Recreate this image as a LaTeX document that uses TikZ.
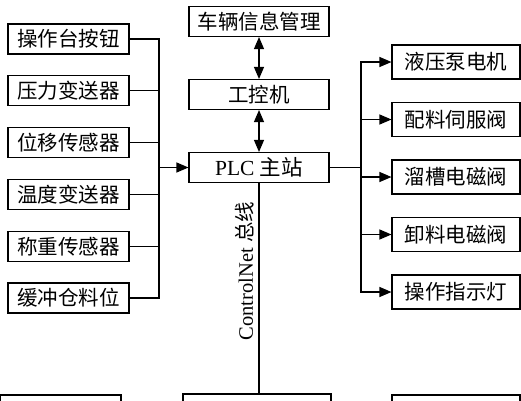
\documentclass[tikz,border=0pt]{standalone}
\usepackage{fontspec}
\setmainfont{Liberation Serif}
\newfontfamily\cjk{Noto Sans CJK SC}
\usetikzlibrary{arrows.meta}

\begin{document}
\begin{tikzpicture}[> = {Triangle[length=12pt, width=10pt]}, % arrow head style
        x = 1pt, y = -1pt, % one unit is one pixel of the page
        node distance = 51.8pt, % distance between sensor boxes
        line width = 1.1pt % line style
    ]

    \tikzstyle{every node}=[font=\fontsize{20.5}{24}\selectfont]
    \tikzstyle{lbox}=[draw = black, rectangle, inner sep = 0pt,
    minimum width = 121pt, minimum height = 30pt]
    \tikzstyle{cbox}=[lbox, minimum width = 140pt]
    \tikzstyle{rbox}=[lbox, minimum width = 128pt, minimum height = 34pt]

    \clip (0,0) rectangle (521,400);

    % sensors
    \node[lbox] (s1) at (68.5,39) {\cjk 操作台按钮}; \node[lbox] (s2) [below
    of=s1] {\cjk 压力变送器}; \node[lbox] (s3) [below of=s2] {\cjk 位移传感器};
    \node[lbox] (s4) [below of=s3] {\cjk 温度变送器}; \node[lbox] (s5) [below
    of=s4] {\cjk 称重传感器}; \node[lbox] (s6) [below of=s5] {\cjk 缓冲仓料位};

    % master
    \node[cbox] (veh) at (259,21.5) {\cjk 车辆信息管理}; \node[cbox] (ipc)
    [below of=veh, node distance=73pt] {\cjk 工控机}; \node[cbox] (plc) [below
    of=ipc, node distance=73pt] {\fontsize{21.5}{24}\selectfont PLC {\cjk 主站}};

    % actuators
    \node[rbox] (a1) at (456,62) {\cjk 液压泵电机}; \node[rbox] (a2) [below
    of=a1, node distance=57.5pt] {\cjk 配料伺服阀}; \node[rbox] (a3) [below
    of=a2, node distance=57.5pt] {\cjk 溜槽电磁阀}; \node[rbox] (a4) [below
    of=a3, node distance=57.5pt] {\cjk 卸料电磁阀}; \node[rbox] (a5) [below
    of=a4, node distance=57.5pt] {\cjk 操作指示灯};

    % stations on the bus
    \node[lbox, minimum width=121pt, minimum height=52pt] (d1) at (60.5,421) {};
    \node[lbox, minimum width=148pt, minimum height=52pt] (d2) at (257,420) {};
    \node[lbox, minimum width=128pt, minimum height=52pt] (d3) at (456,421) {};

    \coordinate (lbus) at (159,167.5); \coordinate (rbus) at (361,167.5);

    \draw (s1.east) -| (lbus); \draw (s6.east) -| (lbus); \foreach \i in
    {2,...,5} \draw (s\i.east) -- (s\i.east -| lbus); \draw[->] (lbus) --
    (plc.west);

    \draw (plc.east) -- (rbus); \draw[->] (rbus) |- (a1.west); \draw[->] (rbus)
    |- (a5.west); \foreach \i in {2,3,4} \draw[->] (a\i.west -| rbus) --
    (a\i.west);

    \draw[<->] (veh.south) -- (ipc.north); \draw[<->] (ipc.south) --
    (plc.north);

    \draw (plc.south) -- (plc.south |- d2.north); \node[rotate=90] (buslabel)
    at (245,271) {ControlNet {\cjk 总线}};
\end{tikzpicture}
\end{document}
